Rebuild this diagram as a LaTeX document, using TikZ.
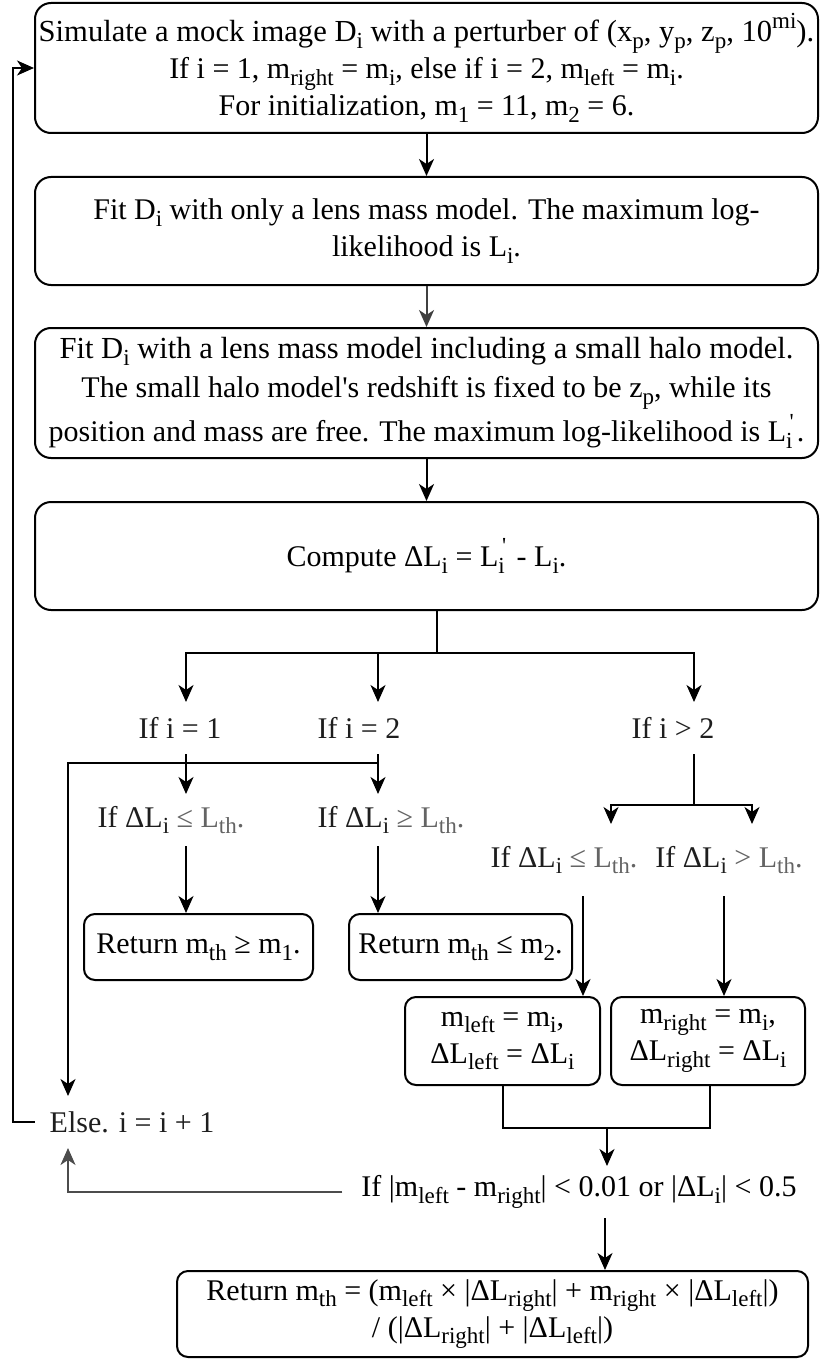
\documentclass[tikz,border=0pt]{standalone}
\usepackage{fontspec}
\setmainfont{Liberation Serif}
\usetikzlibrary{arrows.meta,calc}
\newcommand{\sbs}[1]{\raisebox{-0.22em}{\fontsize{23pt}{23pt}\selectfont #1}}
\newcommand{\sps}[1]{\raisebox{0.42em}{\fontsize{23pt}{23pt}\selectfont #1}}
\newcommand{\Lip}{L\rlap{\sbs{i}}\sps{\hspace{0.16em}\textquotesingle}\hspace{0.1em}}
\definecolor{txtgray}{RGB}{100,100,100}
\definecolor{txtdark}{RGB}{30,30,30}
\begin{document}
\begin{tikzpicture}[x=1pt,y=-1pt,
  font=\fontsize{30pt}{37pt}\selectfont,
  line width=2pt,
  box/.style={draw, align=center, inner sep=0pt, rounded corners=16pt},
  sbox/.style={draw, align=center, inner sep=0pt, rounded corners=11pt},
  lbl/.style={inner sep=0pt, minimum height=50pt, text=txtdark, align=center},
  arr/.style={-{Stealth[length=17pt,width=15pt,inset=5pt]}}]
\useasboundingbox (0,0) rectangle (820,1359);

% vertical guide coordinates
\coordinate (xa) at (186,0);
\coordinate (xb) at (378,0);
\coordinate (xc) at (694,0);
\coordinate (xd) at (583,0);
\coordinate (xe) at (724,0);
\coordinate (xl) at (68,0);
\coordinate (xg) at (13,0);
\coordinate (xm) at (607,0);
\coordinate (xn) at (605,0);
\coordinate (xp) at (503,0);
\coordinate (xq) at (710,0);
\coordinate (xr) at (611,0);
\coordinate (xs) at (752,0);

% main boxes
\node[box, minimum width=783pt, minimum height=130pt] (b1) at (426.5,68)
  {\fontsize{30.6pt}{37pt}\selectfont Simulate a mock image D\sbs{i} with a perturber of (x\sbs{p}, y\sbs{p}, z\sbs{p}, 10\sps{mi}).\\
   If i = 1, m\sbs{right} = m\sbs{i}, else if i = 2, m\sbs{left} = m\sbs{i}.\\
   For initialization, m\sbs{1} = 11, m\sbs{2} = 6.};
\node[box, minimum width=783pt, minimum height=108pt] (b2) at (426.5,231)
  {Fit D\sbs{i} with only a lens mass model. The maximum log-\\likelihood is L\sbs{i}.};
\node[box, minimum width=783pt, minimum height=130pt] (b3) at (426.5,393)
  {\fontsize{30.6pt}{37pt}\selectfont Fit D\sbs{i} with a lens mass model including a small halo model.\\[2pt]
   The small halo model\textquotesingle s redshift is fixed to be z\sbs{p}, while its\\[4pt]
   position and mass are free. The maximum log-likelihood is \Lip.};
\node[box, minimum width=783pt, minimum height=108pt] (b4) at (426.5,556)
  {Compute ΔL\sbs{i} = \Lip{} - L\sbs{i}.};

% branch labels
\node[lbl] (i1) at (180,728) {If i = 1};
\node[lbl] (i2) at (359,728) {If i = 2};
\node[lbl] (i3) at (673,728) {If i > 2};
\node[lbl] (d1) at (171,820) {If ΔL\sbs{i} {\color{txtgray}≤ L\sbs{th}.}};
\node[lbl] (d2) at (391,820) {If ΔL\sbs{i} {\color{txtgray}≥ L\sbs{th}.}};
\node[lbl, minimum height=70pt] (d3) at (564,860) {If ΔL\sbs{i} {\color{txtgray}≤ L\sbs{th}.}};
\node[lbl, minimum height=70pt] (d4) at (729,860) {If ΔL\sbs{i} {\color{txtgray}> L\sbs{th}.}};

% small boxes
\node[sbox, minimum width=229pt, minimum height=66pt] (r1) at (198.5,947) {Return m\sbs{th} ≥ m\sbs{1}.};
\node[sbox, minimum width=223pt, minimum height=66pt] (r2) at (460.5,947) {Return m\sbs{th} ≤ m\sbs{2}.};
\node[sbox, minimum width=195pt, minimum height=88pt] (ml) at (502.5,1041)
  {m\sbs{left} = m\sbs{i},\\ ΔL\sbs{left} = ΔL\sbs{i}};
\node[sbox, minimum width=194pt, minimum height=88pt] (mr) at (708,1041)
  {m\sbs{right} = m\sbs{i},\\ ΔL\sbs{right} = ΔL\sbs{i}};

\node[lbl] (els) at (132,1122) {Else. i = i + 1};
\node[lbl, text=black] (cond) at (579,1192) {If |m\sbs{left} - m\sbs{right}| < 0.01 or |ΔL\sbs{i}| < 0.5};

\node[sbox, minimum width=631pt, minimum height=86pt] (fin) at (492.5,1314)
  {Return m\sbs{th} = (m\sbs{left} × |ΔL\sbs{right}| + m\sbs{right} × |ΔL\sbs{left}|)\\
   / (|ΔL\sbs{right}| + |ΔL\sbs{left}|)};

% connectors
\draw[arr] (b1) -- (b2);
\draw[arr, draw=black!75] (b2) -- (b3);
\draw[arr] (b3) -- (b4);

\coordinate (sp) at (437,653);
\draw (b4.south -| sp) -- (sp);
\draw[arr] (sp) -| (i1.north -| xa);
\draw[arr] (sp) -| (i3.north -| xc);
\draw[arr] (xb |- sp) -- (i2.north -| xb);

\draw[arr] (i1.south -| xa) -- (d1.north -| xa);
\draw[arr] (i2.south -| xb) -- (d2.north -| xb);
\coordinate (jn) at (378,763);
\draw[arr] (jn) -| (els.north -| xl);

\draw[arr] (d1.south -| xa) -- (r1.north -| xa);
\draw[arr] (d2.south -| xb) -- (r2.north -| xb);

\coordinate (sp3) at (694,805);
\draw (i3.south -| xc) -- (sp3);
\draw[arr] (sp3) -| (d3.north -| xr);
\draw[arr] (sp3) -| (d4.north -| xs);

\draw[arr] (d3.south -| xd) -- (ml.north -| xd);
\draw[arr] (d4.south -| xe) -- (mr.north -| xe);

\coordinate (jb) at (607,1128);
\draw (ml.south -| xp) |- (jb) -| (mr.south -| xq);
\draw[arr] (jb) -- (cond.north -| xm);
\draw[arr] (cond.south -| xn) -- (fin.north -| xn);
\draw[arr, draw=black!70, shorten <=18pt] (cond.west) -| (els.south -| xl);
\draw[arr, shorten <=14pt] (els.west) -- (els.west -| xg) |- (b1.west);
\end{tikzpicture}
\end{document}
